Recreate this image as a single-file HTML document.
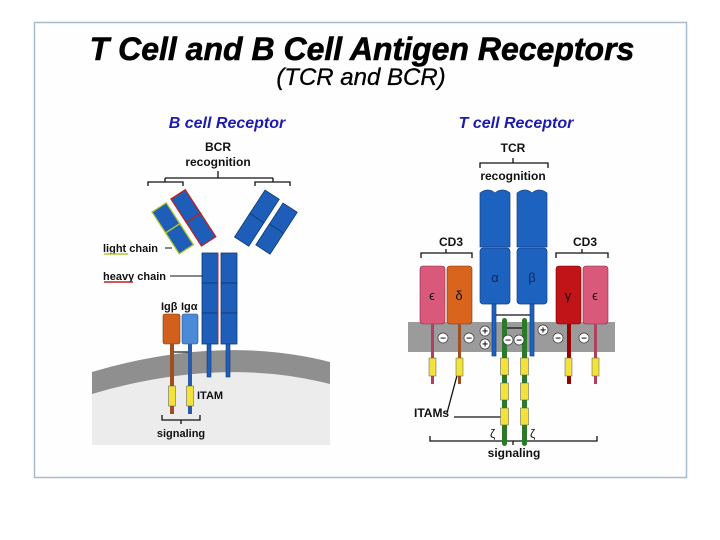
<!DOCTYPE html>
<html><head><meta charset="utf-8"><style>
html,body{margin:0;padding:0;background:#fff;width:720px;height:540px;overflow:hidden}
svg{display:block}
text{font-family:"Liberation Sans",sans-serif}
</style></head><body>
<svg width="720" height="540" viewBox="0 0 720 540" xmlns="http://www.w3.org/2000/svg">
<rect x="0" y="0" width="720" height="540" fill="#fff"/>
<rect x="34.5" y="22.5" width="652" height="455" fill="#fefefe" stroke="#a9bccd" stroke-width="1.5"/>
<text x="362" y="60" font-size="32" font-weight="bold" font-style="italic" text-anchor="middle" stroke="#000" stroke-width="0.6">T Cell and B Cell Antigen Receptors</text>
<text x="361" y="85" font-size="24" font-style="italic" text-anchor="middle" stroke="#000" stroke-width="0.3">(TCR and BCR)</text>
<text x="227" y="128" font-size="16" font-weight="bold" font-style="italic" fill="#1b1bb0" text-anchor="middle">B cell Receptor</text>
<text x="516" y="128" font-size="16" font-weight="bold" font-style="italic" fill="#1b1bb0" text-anchor="middle">T cell Receptor</text>

<!-- BCR panel -->
<defs><clipPath id="bc"><rect x="92" y="300" width="238" height="145"/></clipPath></defs>
<g clip-path="url(#bc)">
<path d="M92 372 Q220 334 330 362 L330 445 L92 445 Z" fill="#8f8f8f"/>
<path d="M92 394 Q220 356 330 384 L330 445 L92 445 Z" fill="#ececec"/>
</g>
<g font-size="12" font-weight="bold" fill="#111">
<text x="218" y="151" text-anchor="middle">BCR</text>
<text x="218" y="166" text-anchor="middle">recognition</text>
</g>
<g stroke="#111" stroke-width="1.3" fill="none">
<path d="M218 171 V178 M165 178 H273 M148 186 V182 H183 V186 M165 178 V182 M255 186 V182 H290 V186 M273 178 V182"/>
<path d="M162 415 V420 H200 V415 M181 420 V424"/>
</g>
<!-- arms -->
<g stroke="#0e3a75" stroke-width="0.8" fill="#1e5db8">
<g transform="translate(152,212) rotate(-33)"><rect x="0" y="0" width="17" height="25" stroke="#b4c830" stroke-width="1.3"/><rect x="0" y="25" width="17" height="25" stroke="#b4c830" stroke-width="1.3"/></g>
<g transform="translate(171,199) rotate(-33)"><rect x="0" y="0" width="17" height="28" stroke="#c02020" stroke-width="1.3"/><rect x="0" y="28" width="17" height="28" stroke="#c02020" stroke-width="1.3"/></g>
<g transform="translate(265,190) rotate(33)"><rect x="0" y="0" width="17" height="28"/><rect x="0" y="28" width="17" height="28"/></g>
<g transform="translate(283,203) rotate(33)"><rect x="0" y="0" width="17" height="25"/><rect x="0" y="25" width="17" height="25"/></g>
<rect x="202" y="253" width="16" height="30"/><rect x="202" y="283" width="16" height="30"/><rect x="202" y="313" width="16" height="31"/>
<rect x="221" y="253" width="16" height="30"/><rect x="221" y="283" width="16" height="30"/><rect x="221" y="313" width="16" height="31"/>
</g>
<line x1="218" y1="253" x2="218" y2="344" stroke="#c02020" stroke-width="1"/>
<rect x="207" y="344" width="4" height="33" fill="#1e5db8" stroke="#0e3a75" stroke-width="0.6"/>
<rect x="226" y="344" width="4" height="33" fill="#1e5db8" stroke="#0e3a75" stroke-width="0.6"/>
<rect x="163" y="314" width="17" height="30" rx="2" fill="#d0601c" stroke="#7a3508" stroke-width="0.6"/>
<rect x="182" y="314" width="16" height="30" rx="2" fill="#4b8ad6" stroke="#234f8a" stroke-width="0.6"/>
<rect x="170" y="344" width="4" height="70" fill="#a05020"/>
<rect x="188" y="344" width="4" height="70" fill="#2a5aa8"/>
<rect x="168.5" y="386" width="7" height="20" fill="#f2e23a" stroke="#555" stroke-width="0.5"/>
<rect x="186.5" y="386" width="7" height="20" fill="#f2e23a" stroke="#555" stroke-width="0.5"/>
<path d="M174 352 H188" stroke="#111" stroke-width="1.2"/>
<g font-size="11" font-weight="bold" fill="#111">
<text x="161" y="310">Igβ</text><text x="181" y="310">Igα</text>
<text x="103" y="252">light chain</text>
<text x="103" y="280">heavy chain</text>
<text x="197" y="399">ITAM</text>
<text x="181" y="437" text-anchor="middle">signaling</text>
</g>
<line x1="104" y1="254" x2="128" y2="254" stroke="#b4c830" stroke-width="1.5"/>
<line x1="104" y1="282" x2="133" y2="282" stroke="#c02020" stroke-width="1.5"/>
<line x1="165" y1="248" x2="172" y2="248" stroke="#111"/>
<line x1="170" y1="276" x2="202" y2="276" stroke="#111"/>

<!-- TCR panel -->
<path d="M408 322 H615 V352 H408 Z" fill="#9b9b9b"/>
<g font-size="12" font-weight="bold" fill="#111">
<text x="513" y="152" text-anchor="middle">TCR</text>
<text x="513" y="180" text-anchor="middle">recognition</text>
<text x="451" y="246" text-anchor="middle">CD3</text>
<text x="585" y="246" text-anchor="middle">CD3</text>
<text x="414" y="417">ITAMs</text>
<text x="514" y="457" text-anchor="middle">signaling</text>
</g>
<g stroke="#111" stroke-width="1.3" fill="none">
<path d="M480 168 V163 H548 V168 M513 163 V158"/>
<path d="M421 258 V253 H472 V258 M446 253 V249"/>
<path d="M556 258 V253 H608 V258 M582 253 V249"/>
<path d="M430 436 V441 H597 V436 M513 441 V445"/>
<path d="M454 417 H503 M447 413 L459 368"/>
</g>
<!-- alpha beta -->
<g fill="#1e62c0" stroke="#143f80" stroke-width="0.7">
<path d="M480 193 Q488 187 495 193 Q502 187 510 193 V247 H480 Z"/>
<rect x="480" y="248" width="30" height="56" rx="3"/>
<path d="M517 193 Q525 187 532 193 Q539 187 547 193 V247 H517 Z"/>
<rect x="517" y="248" width="30" height="56" rx="3"/>
<rect x="492" y="304" width="4" height="52"/>
<rect x="530" y="304" width="4" height="52"/>
</g>
<!-- CD3 -->
<rect x="420" y="266" width="25" height="58" rx="3" fill="#d8597a" stroke="#8a2a45" stroke-width="0.6"/>
<rect x="447" y="266" width="25" height="58" rx="3" fill="#d8641e" stroke="#7a3508" stroke-width="0.6"/>
<rect x="556" y="266" width="25" height="58" rx="3" fill="#c01418" stroke="#700" stroke-width="0.6"/>
<rect x="583" y="266" width="25" height="58" rx="3" fill="#d8597a" stroke="#8a2a45" stroke-width="0.6"/>
<g font-size="13" fill="#111"><text x="432" y="300" text-anchor="middle">ϵ</text><text x="459" y="300" text-anchor="middle">δ</text><text x="495" y="282" text-anchor="middle" fill="#0c2a60">α</text><text x="532" y="282" text-anchor="middle" fill="#0c2a60">β</text><text x="568" y="300" text-anchor="middle">γ</text><text x="595" y="300" text-anchor="middle">ϵ</text></g>
<rect x="431" y="324" width="3" height="60" fill="#b04060"/>
<rect x="458" y="324" width="3" height="60" fill="#a05020"/>
<rect x="567" y="324" width="4" height="60" fill="#900"/>
<rect x="594" y="324" width="3" height="60" fill="#b04060"/>
<g fill="#f2e23a" stroke="#555" stroke-width="0.5">
<rect x="429" y="358" width="7" height="18"/><rect x="456" y="358" width="7" height="18"/>
<rect x="565" y="358" width="7" height="18"/><rect x="592" y="358" width="7" height="18"/>
</g>
<!-- zeta -->
<rect x="502" y="318" width="5" height="128" rx="2.5" fill="#2a7a2a"/>
<rect x="522" y="318" width="5" height="128" rx="2.5" fill="#2a7a2a"/>
<g fill="#f2e23a" stroke="#555" stroke-width="0.5">
<rect x="500.5" y="358" width="8" height="17"/><rect x="500.5" y="383" width="8" height="17"/><rect x="500.5" y="408" width="8" height="17"/>
<rect x="520.5" y="358" width="8" height="17"/><rect x="520.5" y="383" width="8" height="17"/><rect x="520.5" y="408" width="8" height="17"/>
</g>
<path d="M496 315 H530 M507 328 H522" stroke="#111" stroke-width="1.3"/>
<g font-size="12" fill="#111"><text x="490" y="438">ζ</text><text x="530" y="438">ζ</text></g>
<!-- charges -->
<g fill="#fff" stroke="#333" stroke-width="0.7">
<circle cx="443" cy="338" r="5"/><circle cx="469" cy="338" r="5"/><circle cx="485" cy="331" r="5"/><circle cx="485" cy="344" r="5"/>
<circle cx="508" cy="340" r="5"/><circle cx="519" cy="340" r="5"/><circle cx="543" cy="330" r="5"/><circle cx="558" cy="338" r="5"/><circle cx="584" cy="338" r="5"/>
</g>
<g font-size="10" font-weight="bold" fill="#222" text-anchor="middle">
<text x="443" y="341.5">−</text><text x="469" y="341.5">−</text><text x="485" y="334.5">+</text><text x="485" y="347.5">+</text>
<text x="508" y="343.5">−</text><text x="519" y="343.5">−</text><text x="543" y="333.5">+</text><text x="558" y="341.5">−</text><text x="584" y="341.5">−</text>
</g>
</svg>
</body></html>
